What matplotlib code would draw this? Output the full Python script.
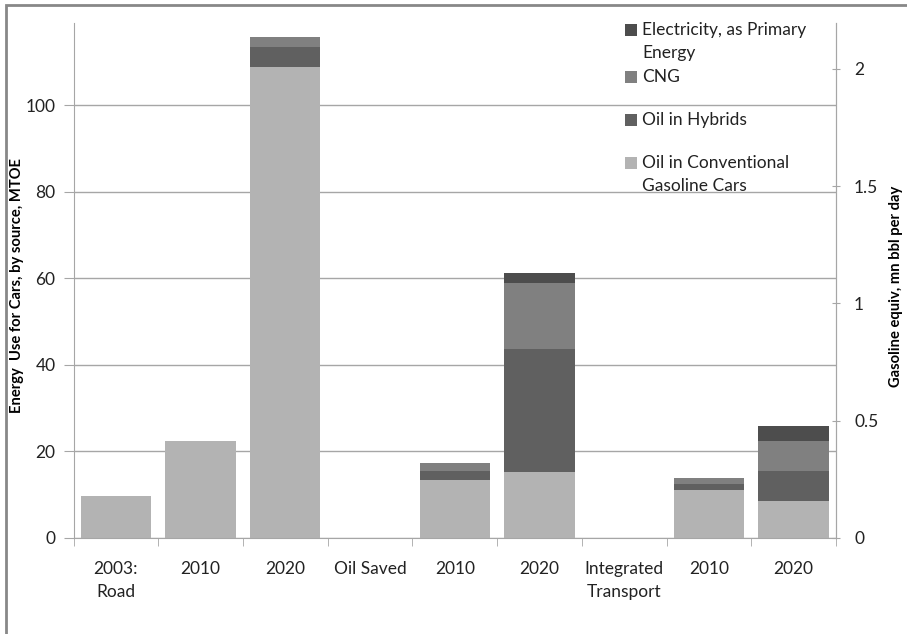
import matplotlib.pyplot as plt
import numpy as np
from matplotlib.patches import Rectangle

plt.rcParams['font.family'] = ['Lato', 'DejaVu Sans']

categories = ["2003:\nRoad", "2010", "2020", "Oil Saved", "2010", "2020",
              "Integrated\nTransport", "2010", "2020"]
oil_conv = [9.8, 22.3, 108.8, 0, 13.3, 15.2, 0, 11.1, 8.5]
oil_hybrid = [0, 0.2, 4.7, 0, 2.2, 28.4, 0, 1.3, 7.0]
cng = [0, 0, 2.3, 0, 1.9, 15.4, 0, 1.5, 7.0]
electricity = [0, 0, 0, 0, 0, 2.3, 0, 0, 3.4]

series_names = ["Oil in Conventional\nGasoline Cars", "Oil in Hybrids", "CNG",
                "Electricity, as Primary\nEnergy"]
colors = ['#b3b3b3', '#606060', '#808080', '#4d4d4d']

mtoe_per_mbd = 54.2  # MTOE per mn bbl/day
left_max = 119

W, H = 907, 634
fig = plt.figure(figsize=(W / 100, H / 100), dpi=100)
ax = fig.add_axes([73.5 / W, 1 - 538 / H, (836 - 73.5) / W, (538 - 23) / H])

x = np.arange(len(categories))
bottom = np.zeros(len(categories))
for vals, c in zip([oil_conv, oil_hybrid, cng, electricity], colors):
    ax.bar(x, vals, bottom=bottom, width=0.83, color=c, edgecolor='none', zorder=2)
    bottom += np.array(vals)

grid_col = '#a6a6a6'
txt_col = '#222222'
fs = 12.5
ax.set_xlim(-0.5, len(categories) - 0.5)
ax.set_ylim(0, left_max)
ax.set_yticks([0, 20, 40, 60, 80, 100])
ax.yaxis.grid(True, color=grid_col, linewidth=1, zorder=0)
ax.set_axisbelow(True)
ax.set_xticks(x)
ax.set_xticklabels(categories, fontsize=fs, color=txt_col, linespacing=1.55, va='top')
ax.tick_params(axis='x', which='major', length=0, pad=16.5)
ax.set_xticks(np.arange(-0.5, len(categories), 1), minor=True)
ax.tick_params(axis='x', which='minor', length=6, color=grid_col, direction='out')
ax.tick_params(axis='y', length=7, color=grid_col, labelsize=fs, labelcolor=txt_col, pad=6)
ax.spines['top'].set_visible(False)
for s in ['left', 'bottom', 'right']:
    ax.spines[s].set_color(grid_col)
ax.set_ylabel("Energy  Use for Cars, by source, MTOE", fontsize=10.6, fontweight='bold')
ax.yaxis.set_label_coords(-0.065, 0.49)

ax2 = ax.twinx()
ax2.set_ylim(0, left_max / mtoe_per_mbd)
ax2.set_yticks([0, 0.5, 1, 1.5, 2])
ax2.set_yticklabels(['0', '0.5', '1', '1.5', '2'])
ax2.tick_params(axis='y', length=6, direction='inout', color=grid_col, labelsize=fs,
                labelcolor=txt_col, pad=10)
for s in ['top', 'left', 'bottom']:
    ax2.spines[s].set_visible(False)
ax2.spines['right'].set_color(grid_col)
ax2.set_ylabel("Gasoline equiv, mn bbl per day", fontsize=10.6, fontweight='bold', rotation=90)
ax2.yaxis.set_label_coords(1.0695, 0.489)

# legend, laid out like the original (entries top to bottom, uneven spacing)
legend_rows = [30, 77, 120, 163]  # pixel y of each entry's first line
for name, c, yrow in zip(series_names[::-1], colors[::-1], legend_rows):
    fig.patches.append(Rectangle((625 / W, 1 - (yrow + 6) / H), 12 / W, 12 / H,
                                 transform=fig.transFigure, facecolor=c, edgecolor='none'))
    fig.text(642 / W, 1 - (yrow - 8) / H, name, fontsize=fs, color=txt_col,
             va='top', ha='left', linespacing=1.55)

fig.patches.append(Rectangle((6 / W, -0.1), 2, 1.1 - 5 / H, transform=fig.transFigure,
                             fill=False, edgecolor='#888888', linewidth=2))

fig.savefig('out.png', dpi=100)
